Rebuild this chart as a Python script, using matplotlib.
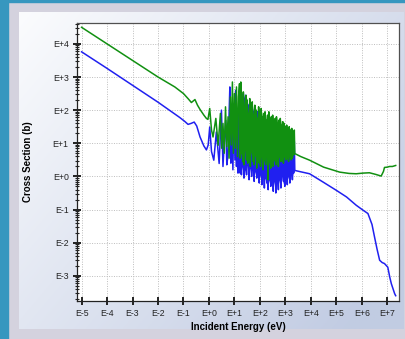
import numpy as np
import matplotlib.pyplot as plt
from matplotlib.patches import Rectangle
from matplotlib.ticker import FixedLocator, NullLocator, LogLocator, FuncFormatter

plt.rcParams['font.family'] = ['Liberation Sans', 'DejaVu Sans']
plt.rcParams['path.simplify'] = False

# log10(energy in eV) and log10(cross section in b)

# smooth part + first resolved resonances
green_low_e = [-5.0, -4.0, -3.0, -2.0, -1.34, -1.0, -0.8, -0.69, -0.55, -0.45, -0.35, -0.2, -0.1, -0.04,
               0.03, 0.10, 0.16, 0.27, 0.36, 0.45, 0.50, 0.55, 0.60, 0.65, 0.70, 0.75, 0.79, 0.84, 0.88,
               0.92, 0.96, 1.00, 1.04, 1.08, 1.12, 1.16]
green_low_xs = [4.50, 4.00, 3.50, 3.00, 2.70, 2.50, 2.33, 2.23, 2.32, 2.15, 2.02, 1.85, 1.75, 1.72,
                2.05, 1.40, 1.19, 1.75, 0.94, 1.90, 0.85, 1.60, 0.70, 2.10, 0.90, 1.80, 0.55, 2.40, 0.95,
                2.85, 0.70, 2.50, 0.85, 2.70, 0.60, 2.40]
blue_low_e = [-5.0, -4.0, -3.0, -2.0, -1.15, -0.95, -0.82, -0.7, -0.58, -0.48, -0.35, -0.2, -0.1, -0.03,
              0.03, 0.10, 0.19, 0.29, 0.40, 0.49, 0.55, 0.61, 0.66, 0.70, 0.74, 0.78, 0.82, 0.86, 0.90,
              0.94, 0.98, 1.02, 1.05, 1.08, 1.11, 1.14, 1.17]
blue_low_xs = [3.76, 3.26, 2.75, 2.24, 1.78, 1.66, 1.57, 1.60, 1.64, 1.52, 1.19, 0.92, 0.80, 0.95,
               1.49, 0.75, 0.49, 1.34, 0.39, 2.00, 0.30, 1.15, 1.69, 0.35, 0.59, 1.60, 2.70, 0.40, 1.40,
               0.20, 2.20, 0.50, 2.60, 0.30, 1.90, 0.10, 2.30]

# dense resonance region: peaks at dense_peak_e, dips at dense_dip_e
dense_peak_e = [1.20, 1.25, 1.30, 1.35, 1.40, 1.45, 1.50, 1.55, 1.60, 1.65, 1.70, 1.75, 1.80, 1.85,
                1.90, 1.95, 2.00, 2.05, 2.10, 2.15, 2.20, 2.25, 2.30, 2.35, 2.40, 2.45, 2.50, 2.55,
                2.60, 2.65, 2.70, 2.75, 2.80, 2.85, 2.90, 2.95, 3.00, 3.05, 3.10, 3.15, 3.20, 3.25,
                3.30, 3.35]
dense_dip_e = [1.225, 1.275, 1.325, 1.375, 1.425, 1.475, 1.525, 1.575, 1.625, 1.675, 1.725, 1.775,
               1.825, 1.875, 1.925, 1.975, 2.025, 2.075, 2.125, 2.175, 2.225, 2.275, 2.325, 2.375,
               2.425, 2.475, 2.525, 2.575, 2.625, 2.675, 2.725, 2.775, 2.825, 2.875, 2.925, 2.975,
               3.025, 3.075, 3.125, 3.175, 3.225, 3.275, 3.325]
green_peaks = [2.80, 2.85, 2.40, 2.55, 2.10, 2.45, 2.30, 1.90, 2.35, 2.05, 2.25, 1.85, 2.15, 2.00,
               1.75, 2.10, 1.95, 2.05, 1.80, 1.90, 1.95, 1.70, 1.85, 1.95, 1.75, 1.80, 1.85, 1.65,
               1.75, 1.80, 1.60, 1.70, 1.75, 1.55, 1.65, 1.60, 1.50, 1.55, 1.45, 1.50, 1.40, 1.45,
               1.35, 1.40]
green_dips = [0.55, 0.70, 0.45, 0.35, 0.80, 0.50, 0.40, 0.60, 0.30, 0.75, 0.45, 0.35, 0.65, 0.25,
              0.55, 0.40, 0.30, 0.60, 0.20, 0.50, 0.35, 0.60, -0.10, 0.45, 0.25, 0.55, 0.30, 0.50,
              0.35, 0.55, 0.30, 0.60, 0.45, 0.50, 0.40, 0.60, 0.50, 0.55, 0.45, 0.60, 0.50, 0.55, 0.65]
blue_peaks = [2.45, 2.55, 2.40, 2.50, 2.35, 2.45, 2.25, 2.15, 2.20, 2.05, 2.10, 1.95, 2.00, 1.90,
              1.95, 1.85, 1.80, 1.85, 1.75, 1.70, 1.75, 1.65, 1.60, 1.65, 1.55, 1.50, 1.55, 1.45,
              1.40, 1.45, 1.35, 1.30, 1.30, 1.25, 1.20, 1.25, 1.15, 1.20, 1.10, 1.15, 1.05, 1.10,
              1.00, 1.05]
blue_dips = [0.10, 0.05, 0.30, -0.05, 0.20, 0.05, 0.35, -0.10, 0.25, 0.00, 0.20, -0.15, 0.15, -0.05,
             0.10, -0.20, 0.05, -0.25, 0.00, -0.35, -0.05, -0.20, -0.40, -0.10, -0.30, -0.05, -0.45,
             -0.15, -0.50, -0.20, -0.40, -0.10, -0.35, 0.00, -0.15, -0.30, -0.05, -0.25, 0.00, -0.20,
             0.05, -0.10, 0.10]

# fast region
green_high_e = [3.37, 3.6, 3.95, 4.5, 5.13, 5.5, 5.78, 6.05, 6.3, 6.55, 6.76, 6.85, 6.89, 7.0, 7.09, 7.2, 7.33]
green_high_xs = [0.69, 0.60, 0.49, 0.28, 0.13, 0.09, 0.08, 0.10, 0.11, 0.06, 0.01, 0.15, 0.27, 0.28, 0.30, 0.30, 0.33]
blue_high_e = [3.37, 3.6, 3.95, 4.5, 5.0, 5.4, 5.78, 6.05, 6.24, 6.4, 6.5, 6.6, 6.7, 6.8, 6.89, 7.02,
               7.1, 7.16, 7.29, 7.33]
blue_high_xs = [0.18, 0.14, 0.08, -0.18, -0.42, -0.62, -0.87, -1.02, -1.12, -1.45, -1.83, -2.20, -2.53, -2.60,
                -2.63, -2.74, -3.05, -3.24, -3.54, -3.60]

x_decades = list(range(-5, 8))
y_decades = list(range(-3, 5))


def weave(peaks, dips):
    # peak, dip, peak, dip ... peak
    out = []
    for i, p in enumerate(peaks):
        out.append(p)
        if i < len(dips):
            out.append(dips[i])
    return out


dense_e = weave(dense_peak_e, dense_dip_e)
green_e = 10.0 ** np.array(green_low_e + dense_e + green_high_e)
green_xs = 10.0 ** np.array(green_low_xs + weave(green_peaks, green_dips) + green_high_xs)
blue_e = 10.0 ** np.array(blue_low_e + dense_e + blue_high_e)
blue_xs = 10.0 ** np.array(blue_low_xs + weave(blue_peaks, blue_dips) + blue_high_xs)

W, H = 406, 339
fig = plt.figure(figsize=(W / 100, H / 100), dpi=100)
fig.patch.set_facecolor('#d4d2de')

# blue window edge
fig.add_artist(Rectangle((0, 0), 8 / W, 1, transform=fig.transFigure, color='#3797bf', zorder=0))
fig.add_artist(Rectangle((0, 1 - 2 / H), 1, 2 / H, transform=fig.transFigure, color='#3797bf', zorder=0))

# gradient panel
bg = fig.add_axes([19 / W, (H - 329) / H, (404 - 19) / W, (329 - 12) / H], zorder=0)
gx, gy = np.meshgrid(np.linspace(0, 1, 200), np.linspace(0, 1, 200))
t = np.clip(0.65 * gx + 0.45 * gy, 0, 1)
c0 = np.array([0.985, 0.988, 0.995])
c1 = np.array([0.76, 0.80, 0.89])
img = c0 + (c1 - c0) * t[..., None]
bg.imshow(img, aspect='auto', extent=[0, 1, 0, 1], origin='upper')
bg.axis('off')

ax = fig.add_axes([77 / W, (H - 301) / H, 322 / W, 278 / H], zorder=2)
ax.set_facecolor('white')
ax.plot(blue_e, blue_xs, color='#2020f0', lw=1.1)
ax.plot(green_e, green_xs, color='#119011', lw=1.1)
# the dense block renders as a solid band in the original plot
ax.fill_between(10.0 ** np.array(dense_peak_e[:-1]), 10.0 ** np.array(blue_dips),
                10.0 ** np.array(blue_peaks[:-1]), color='#2020f0', lw=0, zorder=1.9)
ax.fill_between(10.0 ** np.array(dense_peak_e[:-1]), 10.0 ** np.array(green_dips),
                10.0 ** np.array(green_peaks[:-1]), color='#119011', lw=0, zorder=2.1)

ax.set_xscale('log')
ax.set_yscale('log')
ax.set_xlim(10 ** -5.18, 10 ** 7.46)
ax.set_ylim(10 ** -3.76, 10 ** 4.63)

fmt = FuncFormatter(lambda v, p: 'E%+d' % int(round(np.log10(v))))
ax.xaxis.set_major_locator(FixedLocator([10.0 ** k for k in x_decades]))
ax.xaxis.set_major_formatter(fmt)
ax.xaxis.set_minor_locator(NullLocator())
ax.yaxis.set_major_locator(FixedLocator([10.0 ** k for k in y_decades]))
ax.yaxis.set_major_formatter(fmt)
ax.yaxis.set_minor_locator(LogLocator(base=10, subs=np.arange(2, 10), numticks=30))

ax.tick_params(axis='both', which='major', direction='inout', length=6, width=1.4,
               labelsize=6.3, colors='#222222', pad=3)
ax.tick_params(axis='y', which='minor', direction='inout', length=3.5, width=0.8, color='#222222')
for s in ax.spines.values():
    s.set_color('#505050')
    s.set_linewidth(0.9)
ax.spines['left'].set_color('#222222')
ax.spines['bottom'].set_color('#222222')

ax.grid(True, which='major', linestyle=(0, (1, 1.5)), color='#bdbdbd', lw=0.7)
ax.set_axisbelow(True)

ax.set_xlabel('Incident Energy (eV)', fontsize=7, fontweight='bold', labelpad=3)
ax.set_ylabel('Cross Section (b)', fontsize=7, fontweight='bold', labelpad=14)

fig.savefig('out.png', dpi=100, facecolor=fig.get_facecolor())
